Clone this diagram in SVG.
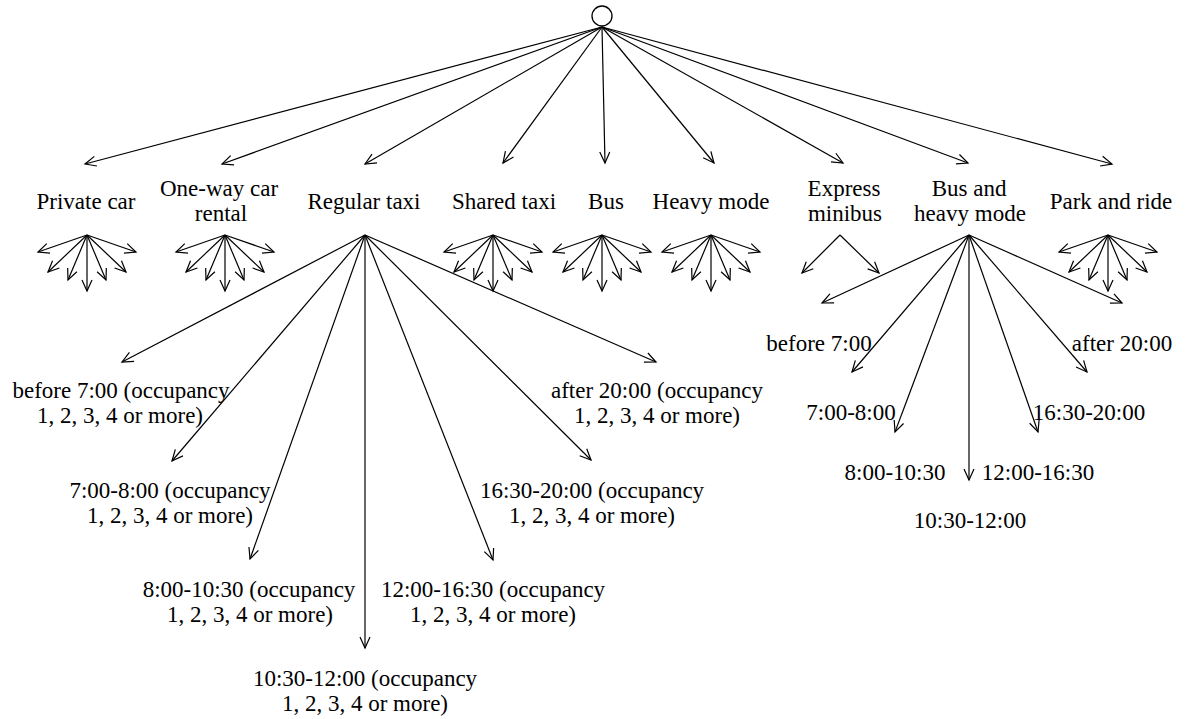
<svg xmlns="http://www.w3.org/2000/svg" width="1185" height="719" viewBox="0 0 1185 719">
  <style>
    .lbl { font-family: "Liberation Serif", "Times New Roman", serif; font-size: 23px; fill: #000; text-anchor: middle; }
    .edge { stroke: #000; stroke-width: 1.2; fill: none; marker-end: url(#arrow); }
    .root { fill: #fff; stroke: #000; stroke-width: 1.3; }
  </style>
  <defs>
    <marker id="arrow" viewBox="0 0 14 12" markerWidth="14" markerHeight="12" refX="12" refY="6" orient="auto" markerUnits="userSpaceOnUse">
      <path d="M1,1 L12,6 L1,11" fill="none" stroke="#000" stroke-width="1.2"/>
    </marker>
  </defs>
  <rect width="1185" height="719" fill="#fff"/>

  <!-- connectors -->
  <g id="connectors">
    <!-- root to travel modes -->
    <g id="root-edges">
      <line class="edge" x1="602" y1="27" x2="85" y2="164"/>
      <line class="edge" x1="602" y1="27" x2="222" y2="164"/>
      <line class="edge" x1="602" y1="27" x2="365" y2="164"/>
      <line class="edge" x1="602" y1="27" x2="503" y2="163"/>
      <line class="edge" x1="602" y1="27" x2="605" y2="163"/>
      <line class="edge" x1="602" y1="27" x2="714" y2="163"/>
      <line class="edge" x1="602" y1="27" x2="843" y2="163"/>
      <line class="edge" x1="602" y1="27" x2="968" y2="163"/>
      <line class="edge" x1="602" y1="27" x2="1112" y2="164"/>
    </g>
    <!-- seven-way fans under the modes (unlabelled time periods) -->
    <g id="fan-private-car" transform="translate(87 235)">
      <line class="edge" x1="0" y1="0" x2="-49" y2="17"/>
      <line class="edge" x1="0" y1="0" x2="-39" y2="37"/>
      <line class="edge" x1="0" y1="0" x2="-19" y2="45"/>
      <line class="edge" x1="0" y1="0" x2="0" y2="56"/>
      <line class="edge" x1="0" y1="0" x2="19" y2="45"/>
      <line class="edge" x1="0" y1="0" x2="39" y2="37"/>
      <line class="edge" x1="0" y1="0" x2="49" y2="17"/>
    </g>
    <g id="fan-one-way" transform="translate(225 235)">
      <line class="edge" x1="0" y1="0" x2="-49" y2="17"/>
      <line class="edge" x1="0" y1="0" x2="-39" y2="37"/>
      <line class="edge" x1="0" y1="0" x2="-19" y2="45"/>
      <line class="edge" x1="0" y1="0" x2="0" y2="56"/>
      <line class="edge" x1="0" y1="0" x2="19" y2="45"/>
      <line class="edge" x1="0" y1="0" x2="39" y2="37"/>
      <line class="edge" x1="0" y1="0" x2="49" y2="17"/>
    </g>
    <g id="fan-shared-taxi" transform="translate(493 235)">
      <line class="edge" x1="0" y1="0" x2="-49" y2="17"/>
      <line class="edge" x1="0" y1="0" x2="-39" y2="37"/>
      <line class="edge" x1="0" y1="0" x2="-19" y2="45"/>
      <line class="edge" x1="0" y1="0" x2="0" y2="56"/>
      <line class="edge" x1="0" y1="0" x2="19" y2="45"/>
      <line class="edge" x1="0" y1="0" x2="39" y2="37"/>
      <line class="edge" x1="0" y1="0" x2="49" y2="17"/>
    </g>
    <g id="fan-bus" transform="translate(602 235)">
      <line class="edge" x1="0" y1="0" x2="-49" y2="17"/>
      <line class="edge" x1="0" y1="0" x2="-39" y2="37"/>
      <line class="edge" x1="0" y1="0" x2="-19" y2="45"/>
      <line class="edge" x1="0" y1="0" x2="0" y2="56"/>
      <line class="edge" x1="0" y1="0" x2="19" y2="45"/>
      <line class="edge" x1="0" y1="0" x2="39" y2="37"/>
      <line class="edge" x1="0" y1="0" x2="49" y2="17"/>
    </g>
    <g id="fan-heavy-mode" transform="translate(711 235)">
      <line class="edge" x1="0" y1="0" x2="-49" y2="17"/>
      <line class="edge" x1="0" y1="0" x2="-39" y2="37"/>
      <line class="edge" x1="0" y1="0" x2="-19" y2="45"/>
      <line class="edge" x1="0" y1="0" x2="0" y2="56"/>
      <line class="edge" x1="0" y1="0" x2="19" y2="45"/>
      <line class="edge" x1="0" y1="0" x2="39" y2="37"/>
      <line class="edge" x1="0" y1="0" x2="49" y2="17"/>
    </g>
    <g id="fan-park-and-ride" transform="translate(1108 235)">
      <line class="edge" x1="0" y1="0" x2="-49" y2="17"/>
      <line class="edge" x1="0" y1="0" x2="-39" y2="37"/>
      <line class="edge" x1="0" y1="0" x2="-19" y2="45"/>
      <line class="edge" x1="0" y1="0" x2="0" y2="56"/>
      <line class="edge" x1="0" y1="0" x2="19" y2="45"/>
      <line class="edge" x1="0" y1="0" x2="39" y2="37"/>
      <line class="edge" x1="0" y1="0" x2="49" y2="17"/>
    </g>
    <g id="fan-express-minibus">
      <line class="edge" x1="840" y1="235" x2="802" y2="273"/>
      <line class="edge" x1="840" y1="235" x2="879" y2="273"/>
    </g>
    <!-- regular taxi periods -->
    <g id="fan-regular-taxi">
      <line class="edge" x1="365" y1="235" x2="122" y2="362"/>
      <line class="edge" x1="365" y1="235" x2="172" y2="461"/>
      <line class="edge" x1="365" y1="235" x2="250" y2="559"/>
      <line class="edge" x1="365" y1="235" x2="365" y2="648"/>
      <line class="edge" x1="365" y1="235" x2="493" y2="560"/>
      <line class="edge" x1="365" y1="235" x2="591" y2="460"/>
      <line class="edge" x1="365" y1="235" x2="656" y2="362"/>
    </g>
    <!-- bus and heavy mode periods -->
    <g id="fan-bus-heavy">
      <line class="edge" x1="969" y1="235" x2="822" y2="303"/>
      <line class="edge" x1="969" y1="235" x2="852" y2="372"/>
      <line class="edge" x1="969" y1="235" x2="895" y2="432"/>
      <line class="edge" x1="969" y1="235" x2="969" y2="480"/>
      <line class="edge" x1="969" y1="235" x2="1038" y2="432"/>
      <line class="edge" x1="969" y1="235" x2="1087" y2="372"/>
      <line class="edge" x1="969" y1="235" x2="1122" y2="303"/>
    </g>
  </g>

  <!-- root -->
  <g id="root">
    <circle class="root" cx="602" cy="16" r="10"/>
  </g>

  <!-- travel modes -->
  <g id="mode-private-car"><text class="lbl" x="86" y="209">Private car</text></g>
  <g id="mode-one-way-car-rental">
    <text class="lbl" x="219" y="196">One-way car</text>
    <text class="lbl" x="221" y="221">rental</text>
  </g>
  <g id="mode-regular-taxi"><text class="lbl" x="364" y="209">Regular taxi</text></g>
  <g id="mode-shared-taxi"><text class="lbl" x="504" y="209">Shared taxi</text></g>
  <g id="mode-bus"><text class="lbl" x="606" y="209">Bus</text></g>
  <g id="mode-heavy-mode"><text class="lbl" x="711" y="209">Heavy mode</text></g>
  <g id="mode-express-minibus">
    <text class="lbl" x="844" y="196">Express</text>
    <text class="lbl" x="845" y="221">minibus</text>
  </g>
  <g id="mode-bus-and-heavy">
    <text class="lbl" x="969" y="196">Bus and</text>
    <text class="lbl" x="970" y="221">heavy mode</text>
  </g>
  <g id="mode-park-and-ride"><text class="lbl" x="1111" y="209">Park and ride</text></g>

  <!-- regular taxi time periods -->
  <g id="taxi-before-7">
    <text class="lbl" x="121" y="398">before 7:00 (occupancy</text>
    <text class="lbl" x="120" y="423">1, 2, 3, 4 or more)</text>
  </g>
  <g id="taxi-7-8">
    <text class="lbl" x="170" y="498">7:00-8:00 (occupancy</text>
    <text class="lbl" x="170" y="523">1, 2, 3, 4 or more)</text>
  </g>
  <g id="taxi-8-1030">
    <text class="lbl" x="249" y="597">8:00-10:30 (occupancy</text>
    <text class="lbl" x="250" y="622">1, 2, 3, 4 or more)</text>
  </g>
  <g id="taxi-1030-12">
    <text class="lbl" x="365" y="686">10:30-12:00 (occupancy</text>
    <text class="lbl" x="365" y="711">1, 2, 3, 4 or more)</text>
  </g>
  <g id="taxi-12-1630">
    <text class="lbl" x="493" y="597">12:00-16:30 (occupancy</text>
    <text class="lbl" x="493" y="622">1, 2, 3, 4 or more)</text>
  </g>
  <g id="taxi-1630-20">
    <text class="lbl" x="592" y="498">16:30-20:00 (occupancy</text>
    <text class="lbl" x="592" y="523">1, 2, 3, 4 or more)</text>
  </g>
  <g id="taxi-after-20">
    <text class="lbl" x="657" y="398">after 20:00 (occupancy</text>
    <text class="lbl" x="657" y="423">1, 2, 3, 4 or more)</text>
  </g>

  <!-- bus and heavy mode time periods -->
  <g id="bh-before-7"><text class="lbl" x="819" y="351">before 7:00</text></g>
  <g id="bh-7-8"><text class="lbl" x="851" y="420">7:00-8:00</text></g>
  <g id="bh-8-1030"><text class="lbl" x="895" y="480">8:00-10:30</text></g>
  <g id="bh-1030-12"><text class="lbl" x="970" y="528">10:30-12:00</text></g>
  <g id="bh-12-1630"><text class="lbl" x="1038" y="480">12:00-16:30</text></g>
  <g id="bh-1630-20"><text class="lbl" x="1089" y="420">16:30-20:00</text></g>
  <g id="bh-after-20"><text class="lbl" x="1122" y="351">after 20:00</text></g>
</svg>
